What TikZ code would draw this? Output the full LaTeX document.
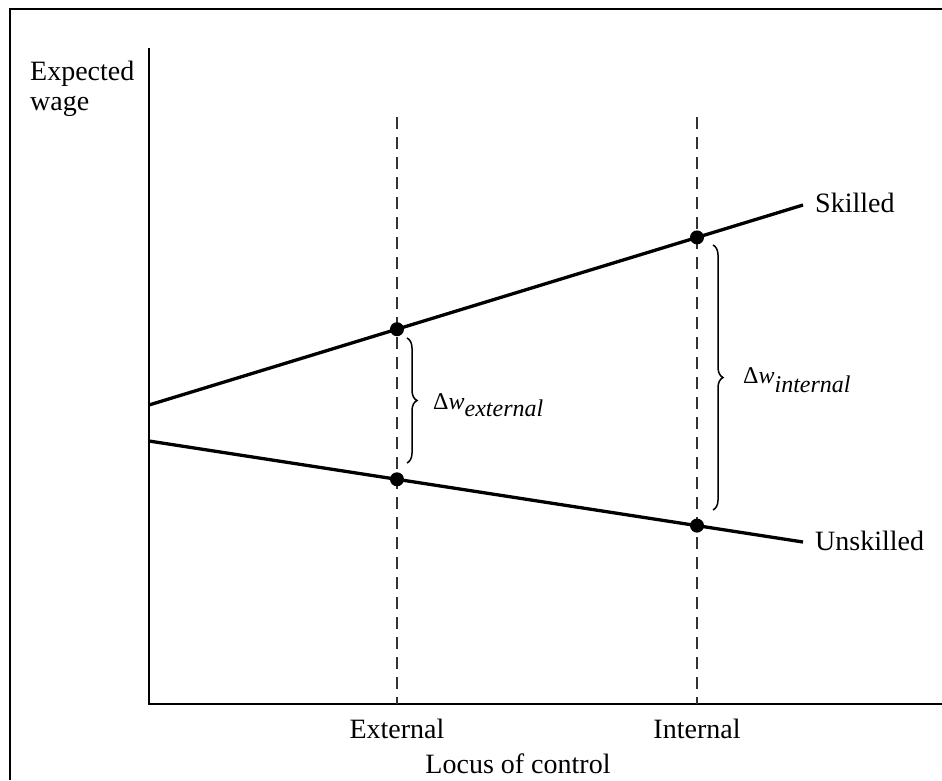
\documentclass[tikz,border=0pt]{standalone}
\usepackage{fontspec}
\setmainfont{Liberation Serif}
\usetikzlibrary{decorations.pathreplacing}
\begin{document}
\begin{tikzpicture}[x=1pt,y=-1pt,
  lbl/.style={inner sep=0pt,font=\fontsize{28}{31}\selectfont},
  dlbl/.style={inner sep=0pt,anchor=base west,font=\fontsize{24}{27}\selectfont},
  curve/.style={line width=3.3pt},
  axis/.style={line width=2pt},
  guide/.style={line width=1.8pt,dash pattern=on 12pt off 8pt,black!80},
  dot/.style={circle,fill=black,inner sep=0pt,minimum size=14pt},
  bracestyle/.style={line width=1.5pt,decorate,decoration={brace,amplitude=10pt}}]
\useasboundingbox (0,0) rectangle (942,780);
% frame
\draw[line width=2pt] (9.5,780) -- (9.5,8.5) -- (942,8.5);
% axes
\coordinate (ytop) at (149,48);
\coordinate (orig) at (149,704);
\coordinate (xend) at (942,704);
\draw[axis] (ytop) -- (orig) -- (xend);
% guides
\coordinate (gex0) at (397,117);
\coordinate (gex1) at (397,704);
\coordinate (gin0) at (697,117);
\coordinate (gin1) at (697,704);
\draw[guide] (gex0) -- (gex1);
\draw[guide] (gin0) -- (gin1);
% lines
\coordinate (s0) at (149,405);
\coordinate (s1) at (803,205);
\coordinate (u0) at (149,441);
\coordinate (u1) at (803,542);
\draw[curve] (s0) -- (s1);
\draw[curve] (u0) -- (u1);
% dots
\node[dot] (se) at (397,329.2) {};
\node[dot] (si) at (697,237.4) {};
\node[dot] (ue) at (397,479.3) {};
\node[dot] (ui) at (697,525.6) {};
% braces
\coordinate (bet) at (407,338);
\coordinate (beb) at (407,463);
\coordinate (bit) at (713,245);
\coordinate (bib) at (713,510);
\draw[bracestyle] (bet) -- (beb);
\draw[bracestyle] (bit) -- (bib);
\node[dlbl] (dwe) at (433,409) {Δ\textit{w}\raisebox{-7pt}{\textit{external}}};
\node[dlbl] (dwi) at (743,383) {Δ\textit{w}\raisebox{-9pt}{\textit{internal}}};
% labels
\node[lbl,anchor=base west] (ew1) at (30,80) {Expected};
\node[lbl,anchor=base west] (ew2) at (30,110) {wage};
\node[lbl,anchor=base west] (sk) at (815,212) {Skilled};
\node[lbl,anchor=base west] (us) at (815,550) {Unskilled};
\node[lbl,anchor=base] (ext) at (397,738) {External};
\node[lbl,anchor=base] (int) at (697,738) {Internal};
\node[lbl,anchor=base] (loc) at (518,773) {Locus of control};
\end{tikzpicture}
\end{document}
